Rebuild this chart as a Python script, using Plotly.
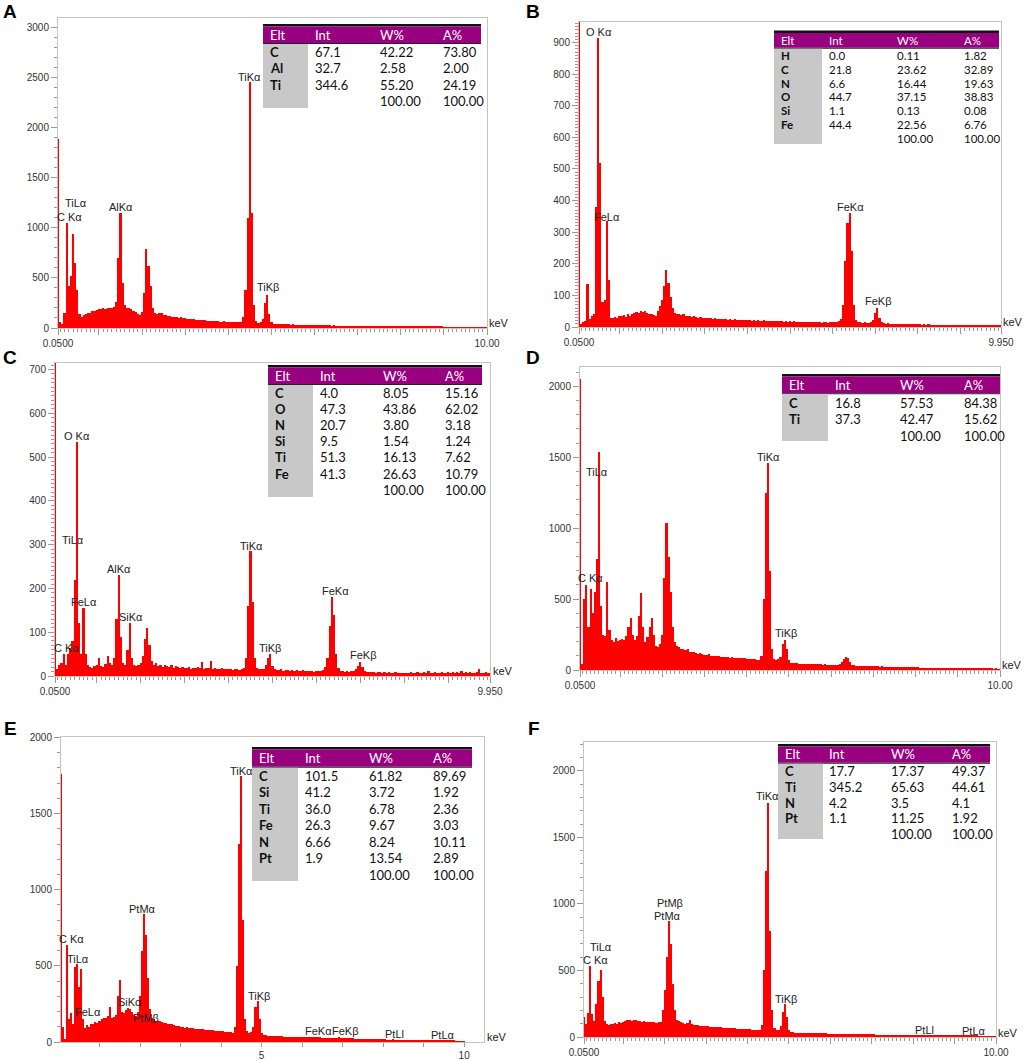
import plotly.graph_objects as go

W, H = 1024, 1060
STEP = 0.05

# channel centres, keV
energy_kev = [round(STEP * (i + 1), 2) for i in range(200)]

# ---- spectra (counts per 0.05 keV channel) --------------------------------
counts_a = [
    1880, 60, 40, 150, 1050, 420, 520, 940, 650, 380, 140, 110, 130, 140, 150, 150, 165, 170, 180, 185,
    190, 195, 190, 200, 195, 200, 210, 260, 700, 1150, 450, 230, 200, 195, 185, 170, 160, 140, 130, 160,
    350, 790, 620, 420, 200, 150, 140, 145, 150, 130, 125, 115, 120, 110, 105, 110, 100, 105, 100, 95,
    90, 88, 92, 85, 82, 80, 78, 80, 75, 72, 70, 72, 68, 66, 65, 64, 62, 65, 60, 60,
    58, 60, 56, 58, 55, 60, 110, 380, 1100, 2450, 1150, 230, 70, 50, 55, 90, 250, 330, 140, 55,
    42, 40, 38, 40, 37, 36, 37, 35, 34, 35, 33, 32, 33, 31, 32, 30, 30, 29, 30, 28,
    28, 27, 27, 26, 27, 25, 26, 24, 25, 24, 24, 23, 24, 22, 23, 22, 22, 21, 22, 21,
    21, 20, 20, 19, 20, 19, 18, 19, 18, 17, 18, 17, 17, 16, 17, 16, 16, 15, 16, 15,
    15, 14, 15, 14, 14, 13, 14, 13, 13, 12, 13, 12, 12, 12, 11, 12, 11, 11, 11, 10,
    10, 10, 10, 9, 10, 9, 9, 9, 8, 9, 8, 8, 8, 8, 7, 8, 7, 7, 7, 6,
]
counts_b = [
    2000, 10, 15, 20, 135, 25, 35, 40, 380, 915, 520, 80, 85, 335, 150, 30, 28, 32, 30, 35,
    35, 38, 32, 40, 36, 42, 45, 48, 44, 52, 47, 50, 45, 42, 40, 38, 36, 50, 65, 85,
    130, 180, 140, 95, 60, 45, 42, 40, 38, 40, 36, 34, 36, 33, 35, 32, 30, 32, 30, 28,
    28, 30, 27, 26, 28, 25, 26, 24, 25, 26, 23, 24, 22, 24, 23, 22, 23, 21, 22, 21,
    22, 20, 21, 20, 22, 19, 20, 21, 19, 20, 18, 19, 20, 18, 19, 18, 17, 18, 17, 18,
    17, 18, 16, 17, 16, 17, 15, 16, 17, 15, 16, 15, 16, 15, 14, 16, 15, 14, 15, 16,
    16, 17, 18, 25, 70, 210, 330, 360, 240, 70, 22, 16, 15, 14, 15, 14, 13, 15, 22, 45,
    60, 30, 15, 12, 11, 12, 10, 11, 10, 9, 10, 9, 10, 9, 8, 9, 8, 9, 8, 8,
    8, 7, 8, 7, 8, 7, 7, 6, 7, 6, 7, 6, 6, 7, 6, 6, 5, 6, 6, 5,
    6, 5, 6, 5, 5, 6, 5, 6, 5, 5, 6, 5, 5, 4, 5, 5, 4, 5, 5, 5,
]
counts_c = [
    2000, 15, 25, 30, 50, 25, 50, 65, 80, 220, 535, 120, 50, 155, 50, 25, 20, 18, 22, 25,
    40, 22, 20, 28, 45, 30, 25, 40, 130, 230, 90, 30, 25, 60, 120, 40, 25, 22, 25, 30,
    45, 85, 110, 70, 35, 25, 30, 22, 25, 20, 26, 22, 20, 24, 19, 22, 20, 18, 21, 19,
    18, 20, 17, 19, 18, 20, 18, 32, 17, 19, 18, 35, 16, 18, 17, 15, 18, 16, 17, 15,
    16, 14, 15, 16, 14, 15, 18, 40, 160, 285, 170, 40, 18, 16, 15, 17, 25, 40, 50, 22,
    15, 14, 13, 15, 12, 14, 13, 12, 14, 12, 13, 11, 12, 13, 11, 12, 11, 12, 10, 12,
    11, 12, 14, 20, 40, 115, 180, 140, 50, 18, 12, 11, 10, 11, 10, 11, 12, 15, 22, 32,
    20, 12, 10, 9, 10, 9, 8, 10, 9, 8, 9, 8, 9, 8, 7, 9, 8, 8, 7, 8,
    8, 7, 9, 8, 7, 10, 8, 7, 9, 8, 12, 7, 8, 9, 7, 8, 10, 8, 7, 9,
    8, 9, 7, 10, 8, 12, 7, 9, 8, 10, 7, 8, 9, 15, 8, 7, 9, 8, 7, 8,
]
counts_d = [
    2050, 40, 500, 600, 300, 570, 400, 550, 780, 1540, 450, 250, 240, 620, 280, 210, 200, 225, 205, 215,
    220, 210, 240, 300, 365, 250, 210, 240, 380, 540, 300, 200, 230, 300, 370, 250, 170, 160, 180, 250,
    650, 1040, 800, 550, 300, 200, 170, 160, 150, 145, 140, 150, 130, 125, 128, 120, 115, 118, 110, 108,
    105, 110, 102, 100, 98, 100, 96, 95, 92, 95, 90, 88, 90, 86, 85, 87, 84, 82, 83, 80,
    80, 78, 76, 75, 72, 70, 100, 500, 1250, 1460, 700, 150, 80, 70, 75, 90, 180, 210, 150, 70,
    50, 48, 47, 46, 45, 44, 45, 43, 42, 44, 41, 40, 42, 39, 40, 38, 39, 37, 38, 36,
    36, 35, 36, 40, 55, 80, 95, 85, 55, 35, 32, 30, 31, 29, 30, 28, 27, 28, 27, 26,
    26, 25, 24, 25, 23, 24, 22, 23, 22, 21, 22, 20, 21, 20, 19, 20, 19, 18, 19, 18,
    18, 17, 17, 16, 17, 16, 15, 16, 15, 14, 15, 14, 14, 13, 14, 13, 13, 12, 13, 12,
    12, 11, 11, 10, 11, 10, 10, 9, 10, 9, 9, 8, 9, 8, 8, 8, 7, 8, 7, 7,
]
counts_e = [
    1760, 100, 20, 640, 150, 190, 120, 490, 510, 360, 480, 150, 90, 110, 100, 120, 115, 130, 125, 140,
    150, 160, 155, 170, 230, 160, 165, 180, 300, 410, 200, 190, 210, 225, 220, 200, 180, 170, 200, 300,
    600, 840, 700, 420, 220, 160, 150, 140, 135, 140, 130, 125, 128, 120, 115, 118, 110, 105, 108, 100,
    98, 95, 96, 92, 90, 92, 88, 86, 85, 84, 86, 82, 80, 78, 80, 76, 75, 74, 72, 70,
    70, 68, 66, 65, 63, 62, 100, 500, 1300, 1750, 800, 150, 70, 60, 65, 100, 230, 270, 150, 60,
    45, 43, 42, 41, 40, 40, 39, 38, 38, 37, 36, 36, 35, 35, 34, 34, 33, 33, 32, 32,
    32, 31, 31, 30, 32, 35, 34, 32, 30, 29, 28, 28, 28, 27, 27, 27, 28, 30, 29, 27,
    26, 25, 25, 24, 24, 23, 23, 22, 22, 21, 21, 20, 20, 20, 19, 19, 18, 18, 18, 17,
    17, 16, 16, 16, 20, 15, 15, 14, 14, 14, 13, 13, 13, 12, 12, 12, 11, 11, 11, 11,
    10, 10, 10, 9, 9, 9, 9, 12, 8, 8, 8, 7, 7, 7, 7, 6, 6, 6, 6, 5,
]
counts_f = [
    150, 100, 180, 530, 170, 120, 250, 420, 500, 300, 120, 95, 90, 100, 95, 105, 100, 110, 105, 115,
    120, 125, 130, 120, 125, 130, 120, 118, 115, 120, 112, 110, 115, 110, 112, 108, 110, 115, 200, 350,
    600, 870, 700, 400, 200, 130, 120, 110, 105, 100, 105, 130, 95, 90, 92, 88, 85, 86, 82, 80,
    80, 78, 76, 75, 74, 73, 72, 70, 70, 68, 67, 66, 65, 64, 63, 62, 61, 60, 60, 58,
    57, 56, 55, 54, 53, 55, 90, 500, 1250, 1760, 800, 200, 70, 50, 55, 80, 190, 250, 150, 55,
    35, 34, 33, 33, 32, 32, 31, 31, 30, 30, 29, 29, 29, 28, 28, 28, 27, 27, 26, 26,
    26, 25, 25, 24, 24, 24, 23, 23, 23, 22, 22, 22, 21, 21, 21, 20, 20, 20, 19, 19,
    19, 18, 18, 18, 17, 17, 17, 16, 16, 16, 15, 15, 15, 14, 14, 14, 13, 13, 13, 12,
    12, 12, 12, 11, 13, 16, 15, 12, 11, 10, 10, 10, 10, 9, 9, 9, 9, 8, 8, 8,
    8, 8, 8, 8, 8, 9, 10, 12, 11, 9, 8, 7, 7, 7, 6, 6, 6, 6, 5, 5,
]

# ---- quantification tables -------------------------------------------------
elt_a = ["C", "Al", "Ti"]
int_a = ["67.1", "32.7", "344.6"]
wt_a = ["42.22", "2.58", "55.20"]
at_a = ["73.80", "2.00", "24.19"]

elt_b = ["H", "C", "N", "O", "Si", "Fe"]
int_b = ["0.0", "21.8", "6.6", "44.7", "1.1", "44.4"]
wt_b = ["0.11", "23.62", "16.44", "37.15", "0.13", "22.56"]
at_b = ["1.82", "32.89", "19.63", "38.83", "0.08", "6.76"]

elt_c = ["C", "O", "N", "Si", "Ti", "Fe"]
int_c = ["4.0", "47.3", "20.7", "9.5", "51.3", "41.3"]
wt_c = ["8.05", "43.86", "3.80", "1.54", "16.13", "26.63"]
at_c = ["15.16", "62.02", "3.18", "1.24", "7.62", "10.79"]

elt_d = ["C", "Ti"]
int_d = ["16.8", "37.3"]
wt_d = ["57.53", "42.47"]
at_d = ["84.38", "15.62"]

elt_e = ["C", "Si", "Ti", "Fe", "N", "Pt"]
int_e = ["101.5", "41.2", "36.0", "26.3", "6.66", "1.9"]
wt_e = ["61.82", "3.72", "6.78", "9.67", "8.24", "13.54"]
at_e = ["89.69", "1.92", "2.36", "3.03", "10.11", "2.89"]

elt_f = ["C", "Ti", "N", "Pt"]
int_f = ["17.7", "345.2", "4.2", "1.1"]
wt_f = ["17.37", "65.63", "3.5", "11.25"]
at_f = ["49.37", "44.61", "4.1", "1.92"]

total = "100.00"

# ---- peak labels (text, keV, counts) ---------------------------------------
peaks_a = [("C Kα", 0.31, 1107), ("TiLα", 0.47, 1243), ("AlKα", 1.5, 1203),
           ("TiKα", 4.5, 2506), ("TiKβ", 4.92, 406)]
peaks_b = [("O Kα", 0.53, 934), ("FeLα", 0.71, 349), ("FeKα", 6.43, 380),
           ("FeKβ", 7.07, 82)]
peaks_c = [("O Kα", 0.54, 548), ("TiLα", 0.47, 310), ("AlKα", 1.51, 244),
           ("FeLα", 0.72, 168), ("SiKα", 1.77, 135), ("C Kα", 0.32, 65),
           ("TiKα", 4.53, 298), ("TiKβ", 4.94, 63), ("FeKα", 6.43, 195),
           ("FeKβ", 7.07, 48)]
peaks_d = [("TiLα", 0.46, 1399), ("C Kα", 0.3, 647), ("TiKα", 4.51, 1505),
           ("TiKβ", 4.93, 259)]
peaks_e = [("C Kα", 0.3, 676), ("TiLα", 0.46, 547), ("FeLα", 0.72, 194),
           ("SiKα", 1.75, 263), ("PtMβ", 2.14, 158), ("PtMα", 2.06, 875),
           ("TiKα", 4.51, 1783), ("TiKβ", 4.93, 304), ("FeKα", 6.4, 70),
           ("FeKβ", 7.06, 70), ("PtLl", 8.27, 55), ("PtLα", 9.47, 48)]
peaks_f = [("TiLα", 0.45, 673), ("C Kα", 0.32, 578), ("PtMβ", 2.13, 1009),
           ("PtMα", 2.06, 911), ("TiKα", 4.49, 1807), ("TiKβ", 4.93, 289),
           ("PtLl", 8.28, 56), ("PtLα", 9.46, 45)]

TICK_FONT = dict(family="Arial, Liberation Sans", size=10, color="#333333")
LABEL_FONT = dict(family="Arial, Liberation Sans", size=11, color="#222222")
TABLE_FONT = "Lato, Open Sans, sans-serif"
PURPLE = "#990080"
GRAY = "#c8c8c8"
FRAME = "#c4c4c4"


def px(x):
    return x / W


def py(y):
    return 1 - y / H


# panel layout in page pixels: frame (left, right, top, bottom) and axis setup
panels = [
    dict(letter="A", lpos=(10, 12), frame=(58, 487, 18, 328), counts=counts_a, peaks=peaks_a,
         xr=[0.05, 10.0], yr=[0, 3090], ydt=500, ymin=100, xend=(10.0, "10.00"),
         kev=(499, 323)),
    dict(letter="B", lpos=(533, 12), frame=(579, 1001, 22, 327), counts=counts_b, peaks=peaks_b,
         xr=[0.05, 9.95], yr=[0, 965], ydt=100, ymin=10, xend=(9.95, "9.950"),
         kev=(1013, 322)),
    dict(letter="C", lpos=(10, 357), frame=(55, 490, 363, 676), counts=counts_c, peaks=peaks_c,
         xr=[0.05, 9.95], yr=[0, 715], ydt=100, ymin=10, xend=(9.95, "9.950"),
         kev=(503, 671)),
    dict(letter="D", lpos=(533, 357), frame=(580, 1000, 367, 670), counts=counts_d, peaks=peaks_d,
         xr=[0.05, 10.0], yr=[0, 2137], ydt=500, ymin=100, xend=(10.0, "10.00"),
         kev=(1012, 665)),
    dict(letter="E", lpos=(10, 728), frame=(61, 484, 737, 1042), counts=counts_e, peaks=peaks_e,
         xr=[0.05, 10.49], yr=[0, 2003], ydt=500, ymin=100, xend=None,
         kev=(497, 1037)),
    dict(letter="F", lpos=(534, 728), frame=(584, 996, 742, 1037), counts=counts_f, peaks=peaks_f,
         xr=[0.05, 10.0], yr=[0, 2216], ydt=500, ymin=100, xend=(10.0, "10.00"),
         kev=(1008, 1033)),
]

fig = go.Figure()
annotations = []
shapes = []

for i, p in enumerate(panels, start=1):
    sx = "" if i == 1 else str(i)
    left, right, top, bottom = p["frame"]
    fig.add_trace(
        go.Bar(
            x=energy_kev,
            y=p["counts"],
            width=STEP,
            marker=dict(color="#ff0000", line=dict(width=0)),
            xaxis="x" + sx,
            yaxis="y" + sx,
            hoverinfo="skip",
            showlegend=False,
        )
    )
    if p["xend"] is None:
        # panel E: plain integer axis, labels at 5 and 10
        tickvals = list(range(1, 11))
        ticktext = ["5" if v == 5 else "10" if v == 10 else "" for v in tickvals]
        minor = dict(ticks="")
        xticklen = 4
    else:
        tickvals = [0.05] + list(range(1, 10)) + [p["xend"][0]]
        ticktext = ["0.0500"] + [""] * 9 + [p["xend"][1]]
        minor = dict(ticks="outside", ticklen=3, dtick=0.1, tick0=0, tickcolor="#999999")
        xticklen = 6
    fig.update_layout(
        **{
            "xaxis" + sx: dict(
                domain=[px(left), px(right)],
                anchor="y" + sx,
                range=p["xr"],
                tickmode="array",
                tickvals=tickvals,
                ticktext=ticktext,
                ticks="outside",
                ticklen=xticklen,
                tickcolor="#999999",
                minor=minor,
                tickfont=TICK_FONT,
                showline=True,
                linecolor=FRAME,
                mirror=True,
                showgrid=False,
                zeroline=False,
                automargin=False,
            ),
            "yaxis" + sx: dict(
                domain=[py(bottom), py(top)],
                anchor="x" + sx,
                range=p["yr"],
                dtick=p["ydt"],
                tick0=0,
                ticks="outside",
                ticklen=6,
                tickcolor="#999999",
                minor=dict(ticks="outside", ticklen=3, dtick=p["ymin"], tick0=0,
                           tickcolor="#999999"),
                tickfont=TICK_FONT,
                showline=True,
                linecolor=FRAME,
                mirror=True,
                showgrid=False,
                zeroline=False,
                automargin=False,
            ),
        }
    )
    for text, xe, yc in p["peaks"]:
        annotations.append(dict(x=xe, y=yc, xref="x" + sx, yref="y" + sx, text=text,
                                showarrow=False, font=LABEL_FONT))
    annotations.append(dict(x=px(p["kev"][0]), y=py(p["kev"][1]), xref="paper", yref="paper",
                            text="keV", xanchor="center", yanchor="middle", showarrow=False,
                            font=LABEL_FONT))
    annotations.append(dict(x=px(p["lpos"][0]), y=py(p["lpos"][1]), xref="paper", yref="paper",
                            text="<b>%s</b>" % p["letter"], xanchor="center", yanchor="middle",
                            showarrow=False,
                            font=dict(family="Arial, Liberation Sans", size=19, color="#000")))


def add_table(box, cols, rows_y, size, elts, ints, wts, ats):
    left, right, top, head_bot, gray_right, gray_bot = box
    head_y = (top + 2 + head_bot) / 2
    shapes.append(dict(type="rect", xref="paper", yref="paper", x0=px(left), x1=px(right),
                       y0=py(top + 2.5), y1=py(top), fillcolor="#111111", line=dict(width=0)))
    shapes.append(dict(type="rect", xref="paper", yref="paper", x0=px(left), x1=px(right),
                       y0=py(head_bot), y1=py(top + 2.5), fillcolor=PURPLE, line=dict(width=0)))
    shapes.append(dict(type="rect", xref="paper", yref="paper", x0=px(left), x1=px(right),
                       y0=py(head_bot + 1), y1=py(head_bot), fillcolor="#222222",
                       line=dict(width=0)))
    shapes.append(dict(type="rect", xref="paper", yref="paper", x0=px(left), x1=px(gray_right),
                       y0=py(gray_bot), y1=py(head_bot + 1), fillcolor=GRAY, line=dict(width=0)))
    for h, cx in zip(["Elt", "Int", "W%", "A%"], cols):
        annotations.append(dict(x=px(cx), y=py(head_y), xref="paper", yref="paper", text=h,
                                xanchor="left", yanchor="middle", showarrow=False,
                                font=dict(family=TABLE_FONT, size=size, color="white")))
    body = list(zip(elts, ints, wts, ats))
    for (e, n, w, a), ry in zip(body, rows_y):
        for j, (t, cx) in enumerate(zip([e, n, w, a], cols)):
            annotations.append(dict(x=px(cx), y=py(ry), xref="paper", yref="paper",
                                    text="<b>%s</b>" % t if j == 0 else t,
                                    xanchor="left", yanchor="middle", showarrow=False,
                                    font=dict(family=TABLE_FONT, size=size, color="#111111")))
    ry = rows_y[len(body)]
    for cx in cols[2:]:
        annotations.append(dict(x=px(cx), y=py(ry), xref="paper", yref="paper", text=total,
                                xanchor="left", yanchor="middle", showarrow=False,
                                font=dict(family=TABLE_FONT, size=size, color="#111111")))


add_table((263, 481, 24, 43, 308, 108), (268, 313, 378, 441),
          [52, 68.3, 84.7, 101], 13, elt_a, int_a, wt_a, at_a)
add_table((774, 999, 30.5, 47.7, 822, 144), (779, 827, 895, 962),
          [55, 69, 83, 96.7, 110.7, 124.7, 138.3], 11.5, elt_b, int_b, wt_b, at_b)
add_table((268, 482, 365, 384, 313, 497), (273, 318, 381, 443),
          [392.7, 409, 425, 441.3, 457.3, 473.7, 489.7], 13, elt_c, int_c, wt_c, at_c)
add_table((782, 1000, 374, 393.3, 828, 441), (787, 833, 898, 962),
          [402.7, 419, 435.7], 13, elt_d, int_d, wt_d, at_d)
add_table((252, 472, 747, 766.7, 298, 881), (257, 303, 367, 431),
          [776, 792.3, 809, 825.3, 842, 858.3, 874.7], 13, elt_e, int_e, wt_e, at_e)
add_table((778, 990, 744, 762.7, 823, 839), (783, 827, 889, 950),
          [771.3, 787, 802.7, 818, 834], 13, elt_f, int_f, wt_f, at_f)

fig.update_layout(
    width=W,
    height=H,
    margin=dict(l=0, r=0, t=0, b=0, autoexpand=False),
    paper_bgcolor="white",
    plot_bgcolor="white",
    bargap=0,
    showlegend=False,
    annotations=annotations,
    shapes=shapes,
)

# the default page body has an 8 px margin; drop it so the figure sits at 0,0
fig.write_html(
    "out.html",
    config={"displayModeBar": False},
    post_script="document.body.style.margin = '0px';",
)
